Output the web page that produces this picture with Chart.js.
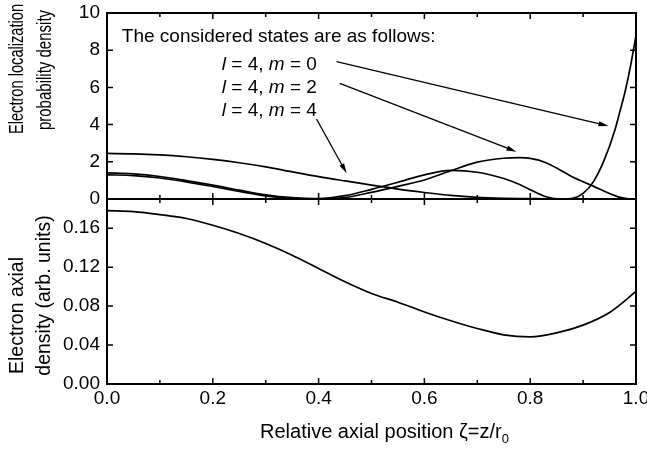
<!DOCTYPE html>
<html>
<head>
<meta charset="utf-8">
<script src="https://cdn.jsdelivr.net/npm/chart.js@4.4.1/dist/chart.umd.min.js"></script>
<style>
  html, body { margin: 0; padding: 0; background: #fff; }
  #wrap { position: relative; width: 647px; height: 451px; overflow: hidden; }
  #topChart { position: absolute; left: 0; top: 0; }
  #bottomChart { position: absolute; left: 0; top: 188px; }
</style>
</head>
<body>
<div id="wrap">
  <canvas id="bottomChart" width="647" height="263"></canvas>
  <canvas id="topChart" width="647" height="210"></canvas>
</div>
<script>
// relative axial position, upper panel
const zeta = [0, 0.05, 0.1, 0.15, 0.2, 0.25, 0.3, 0.35, 0.4, 0.45, 0.5, 0.55, 0.6, 0.65, 0.7, 0.75, 0.78, 0.8,
              0.83, 0.86, 0.88, 0.9, 0.92, 0.94, 0.96, 0.97, 0.98, 0.99, 1.0];
// localization probability density, l = 4
const densityM0 = [1.30, 1.26, 1.13, 0.92, 0.67, 0.41, 0.17, 0.04, 0.02, 0.18, 0.52, 0.90, 1.30, 1.54, 1.44, 1.10, 0.78, 0.50,
                   0.12, 0.00, 0.03, 0.30, 0.95, 2.10, 3.70, 4.75, 5.85, 7.20, 8.80];
const densityM2 = [1.40, 1.35, 1.21, 0.99, 0.75, 0.48, 0.23, 0.07, 0.00, 0.08, 0.36, 0.68, 1.02, 1.52, 1.98, 2.19, 2.22, 2.18,
                   1.95, 1.50, 1.18, 0.93, 0.68, 0.42, 0.18, 0.09, 0.03, 0.00, 0.00];
const densityM4 = [2.45, 2.43, 2.37, 2.27, 2.13, 1.95, 1.73, 1.46, 1.20, 0.97, 0.75, 0.53, 0.35, 0.19, 0.09, 0.04, 0.025, 0.02,
                   0.01, 0.005, 0.00, 0.00, 0.00, 0.00, 0.00, 0.00, 0.00, 0.00, 0.00];

// lower panel
const axialZeta = [0, 0.05, 0.1, 0.15, 0.2, 0.25, 0.3, 0.35, 0.4, 0.45, 0.5, 0.55, 0.6, 0.65, 0.7, 0.75, 0.8, 0.85, 0.9, 0.95, 1.0];
const axialDensity = [0.178, 0.177, 0.174, 0.170, 0.163, 0.1545, 0.1443, 0.1323, 0.1187, 0.105, 0.093, 0.084, 0.074, 0.065,
                      0.057, 0.0505, 0.0485, 0.0525, 0.0605, 0.0735, 0.095];

const xTicks = [0, 0.2, 0.4, 0.6, 0.8, 1.0];
const xMinorTicks = [0.1, 0.3, 0.5, 0.7, 0.9];
const topTicks = [0, 2, 4, 6, 8, 10];
const bottomTicks = [0, 0.04, 0.08, 0.12, 0.16];
const stateNames = ['0', '2', '4'];

const FONT = '"Liberation Sans", Arial, Helvetica, sans-serif';

// annotation placement in data units of the upper panel
const note = {
    header: { x: 0.028, y: 8.44 },
    rows: [{ x: 0.217, y: 6.94 }, { x: 0.217, y: 5.70 }, { x: 0.217, y: 4.46 }],
    arrows: [
        { from: [0.434, 7.38], to: [0.948, 3.92] },
        { from: [0.440, 6.22], to: [0.774, 2.54] },
        { from: [0.396, 4.30], to: [0.453, 1.38] }
    ]
};

function pts(xs, ys) {
    return xs.map((x, i) => ({ x: x, y: ys[i] }));
}

function lineSet(data) {
    return {
        data: data,
        borderColor: '#000',
        borderWidth: 1.7,
        pointRadius: 0,
        fill: false,
        cubicInterpolationMode: 'monotone'
    };
}

function drawFrame(chart, yTicks) {
    const ctx = chart.ctx;
    const a = chart.chartArea;
    const sx = chart.scales.x, sy = chart.scales.y;
    ctx.save();
    ctx.strokeStyle = '#000';
    ctx.lineWidth = 2;
    ctx.strokeRect(a.left, a.top, a.right - a.left, a.bottom - a.top);
    ctx.lineWidth = 1.5;
    ctx.beginPath();
    const xTick = (v, len) => {
        const x = sx.getPixelForValue(v);
        ctx.moveTo(x, a.bottom); ctx.lineTo(x, a.bottom - len);
        ctx.moveTo(x, a.top); ctx.lineTo(x, a.top + len);
    };
    xTicks.forEach(v => xTick(v, 6));
    xMinorTicks.forEach(v => xTick(v, 4));
    yTicks.forEach(v => {
        const y = sy.getPixelForValue(v);
        ctx.moveTo(a.left, y); ctx.lineTo(a.left + 6, y);
        ctx.moveTo(a.right, y); ctx.lineTo(a.right - 6, y);
    });
    ctx.stroke();
    ctx.restore();
}

function arrow(ctx, x1, y1, x2, y2) {
    const ang = Math.atan2(y2 - y1, x2 - x1);
    const len = 10, half = 2.6;
    const c = Math.cos(ang), s = Math.sin(ang);
    ctx.beginPath();
    ctx.moveTo(x1, y1);
    ctx.lineTo(x2 - len * 0.7 * c, y2 - len * 0.7 * s);
    ctx.stroke();
    ctx.beginPath();
    ctx.moveTo(x2, y2);
    ctx.lineTo(x2 - len * c + half * s, y2 - len * s - half * c);
    ctx.lineTo(x2 - len * c - half * s, y2 - len * s + half * c);
    ctx.closePath();
    ctx.fill();
}

function vText(ctx, text, cx, cy, size, squeeze) {
    ctx.save();
    ctx.translate(cx, cy);
    ctx.rotate(-Math.PI / 2);
    ctx.scale(squeeze, 1);
    ctx.font = size + 'px ' + FONT;
    ctx.textAlign = 'center';
    ctx.textBaseline = 'middle';
    ctx.fillText(text, 0, 0);
    ctx.restore();
}

const topDecor = {
    id: 'topDecor',
    afterDatasetsDraw(chart) {
        drawFrame(chart, topTicks);
        const ctx = chart.ctx;
        const sx = chart.scales.x, sy = chart.scales.y;
        const a = chart.chartArea;
        ctx.save();
        ctx.fillStyle = '#000';
        ctx.strokeStyle = '#000';
        ctx.textBaseline = 'alphabetic';
        ctx.textAlign = 'left';
        ctx.font = '19px ' + FONT;
        ctx.fillText('The considered states are as follows:', sx.getPixelForValue(note.header.x), sy.getPixelForValue(note.header.y));

        const reg = '19px ' + FONT, ital = 'italic 19px ' + FONT;
        note.rows.forEach((r, i) => {
            let x = sx.getPixelForValue(r.x);
            const y = sy.getPixelForValue(r.y);
            const parts = [[ital, 'l'], [reg, ' = 4, '], [ital, 'm'], [reg, ' = ' + stateNames[i]]];
            parts.forEach(p => {
                ctx.font = p[0];
                ctx.fillText(p[1], x, y);
                x += ctx.measureText(p[1]).width;
            });
        });

        ctx.lineWidth = 1.3;
        note.arrows.forEach(ar => {
            arrow(ctx, sx.getPixelForValue(ar.from[0]), sy.getPixelForValue(ar.from[1]),
                  sx.getPixelForValue(ar.to[0]), sy.getPixelForValue(ar.to[1]));
        });

        // y title of the upper panel
        const mid = (a.top + a.bottom) / 2;
        vText(ctx, 'Electron localization', 18, mid - 37, 19.5, 0.75);
        vText(ctx, 'probability density', 46, mid - 36, 19.5, 0.77);
        ctx.restore();
    }
};

const bottomDecor = {
    id: 'bottomDecor',
    afterDatasetsDraw(chart) {
        drawFrame(chart, bottomTicks);
        const ctx = chart.ctx;
        const a = chart.chartArea;
        ctx.save();
        ctx.fillStyle = '#000';
        const mid = (a.top + a.bottom) / 2;
        vText(ctx, 'Electron axial', 18, mid + 24, 19.5, 1);
        vText(ctx, 'density (arb. units)', 45, mid + 4, 19.5, 1);

        // x title with subscript
        const main = 'Relative axial position \u03B6=z/r';
        ctx.font = '20px ' + FONT;
        const wMain = ctx.measureText(main).width;
        ctx.font = '13px ' + FONT;
        const wSub = ctx.measureText('0').width;
        const cx = (a.left + a.right) / 2 + 13;
        const x0 = cx - (wMain + wSub) / 2;
        const base = a.bottom + 54;
        ctx.textAlign = 'left';
        ctx.textBaseline = 'alphabetic';
        ctx.font = '20px ' + FONT;
        ctx.fillText(main, x0, base);
        ctx.font = '13px ' + FONT;
        ctx.fillText('0', x0 + wMain, base + 5);
        ctx.restore();
    }
};

function yAxis(ticksList, fmt) {
    return {
        afterBuildTicks: s => { s.ticks = ticksList.map(v => ({ value: v })); },
        afterFit: s => { s.width = 107; s.paddingTop = 0; s.paddingBottom = 0; },
        grid: { display: false, drawTicks: false },
        border: { display: false },
        ticks: {
            padding: 7,
            color: '#000',
            font: { family: FONT, size: 19 },
            callback: fmt
        }
    };
}

new Chart(document.getElementById('topChart'), {
    type: 'line',
    data: {
        datasets: [lineSet(pts(zeta, densityM0)), lineSet(pts(zeta, densityM2)), lineSet(pts(zeta, densityM4))]
    },
    options: {
        responsive: false,
        animation: false,
        events: [],
        layout: { padding: { top: 13, right: 11, bottom: 11, left: 0 } },
        plugins: { legend: { display: false }, tooltip: { enabled: false } },
        scales: {
            x: { type: 'linear', min: 0, max: 1, display: false },
            y: Object.assign({ min: 0, max: 10 }, yAxis(topTicks, v => String(v)))
        }
    },
    plugins: [topDecor]
});

new Chart(document.getElementById('bottomChart'), {
    type: 'line',
    data: {
        datasets: [lineSet(pts(axialZeta, axialDensity))]
    },
    options: {
        responsive: false,
        animation: false,
        events: [],
        layout: { padding: { top: 11, right: 11, bottom: 0, left: 0 } },
        plugins: { legend: { display: false }, tooltip: { enabled: false } },
        scales: {
            x: {
                type: 'linear', min: 0, max: 1,
                afterBuildTicks: s => { s.ticks = xTicks.map(v => ({ value: v })); },
                afterFit: s => { s.height = 67; s.paddingLeft = 0; s.paddingRight = 0; },
                grid: { display: false, drawTicks: false },
                border: { display: false },
                ticks: {
                    padding: 3,
                    color: '#000',
                    maxRotation: 0,
                    font: { family: FONT, size: 19 },
                    callback: v => v.toFixed(1)
                }
            },
            y: Object.assign({ min: 0, max: 0.19 }, yAxis(bottomTicks, v => v.toFixed(2)))
        }
    },
    plugins: [bottomDecor]
});
</script>
</body>
</html>
